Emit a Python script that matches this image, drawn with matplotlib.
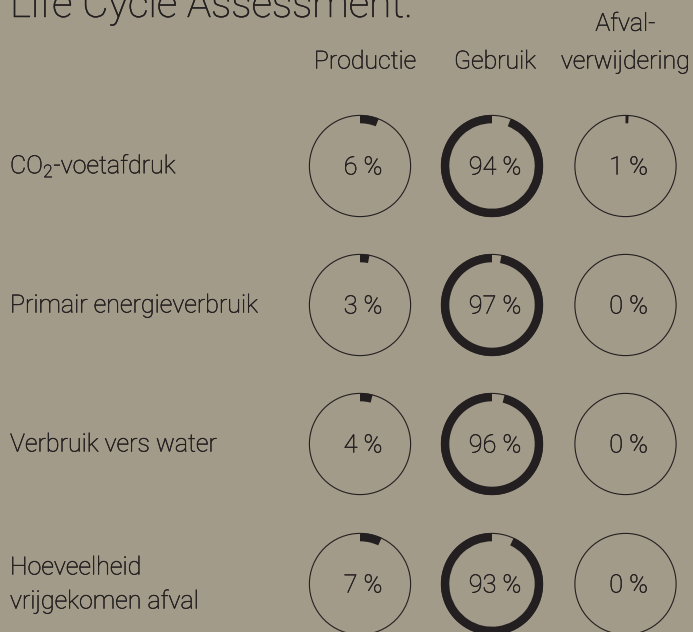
import matplotlib.pyplot as plt
import matplotlib.patheffects as pe
from matplotlib.patches import Circle, Wedge

# --- data ---
title = "Life Cycle Assessment."
categories = ["CO$_\\mathregular{2}$-voetafdruk", "Primair energieverbruik",
              "Verbruik vers water", "Hoeveelheid\nvrijgekomen afval"]
phases = ["Productie", "Gebruik", "Afval-\nverwijdering"]
productie = [6, 3, 4, 7]
gebruik = [94, 97, 96, 93]
afval = [1, 0, 0, 0]

# --- style ---
BG = "#a39b8a"
INK = "#231f20"
FONT = "Roboto"
W = "light"

plt.rcParams["font.family"] = FONT
plt.rcParams["font.weight"] = W
plt.rcParams["mathtext.fontset"] = "custom"
plt.rcParams["mathtext.rm"] = FONT + ":light"
plt.rcParams["mathtext.it"] = FONT + ":light"
plt.rcParams["mathtext.sf"] = FONT + ":light"

# a hair of stroke so the light face is a touch heavier, like the original
THICK = [pe.withStroke(linewidth=0.35, foreground=INK)]

fig = plt.figure(figsize=(6.93, 6.32), dpi=100, facecolor=BG)
ax = fig.add_axes([0, 0, 1, 1])
ax.set_xlim(0, 693)
ax.set_ylim(632, 0)
ax.set_facecolor(BG)
ax.axis("off")

col_x = [360, 492, 625.5]
head_dx = [5, 3, 0]
row_y = [166, 305, 444, 584]
R = 51
RING = 8.3

# title (cut off at the top like the original)
ax.text(10, 17, title, fontsize=29.2, color=INK, ha="left", va="baseline",
        path_effects=THICK)

# column headers
for x, dx, name in zip(col_x, head_dx, phases):
    lines = name.split("\n")
    for i, line in enumerate(reversed(lines)):
        ax.text(x + dx, 68.5 - i * 37.7, line, fontsize=17.9, color=INK,
                ha="center", va="baseline", path_effects=THICK)

# rows
for r, (y, cat) in enumerate(zip(row_y, categories)):
    lines = cat.split("\n")
    n = len(lines)
    for i, line in enumerate(lines):
        base = y + 7.5 + (i - (n - 1) / 2) * 34
        ax.text(10, base, line, fontsize=18, color=INK, ha="left", va="baseline",
                path_effects=THICK)

    vals = [productie[r], gebruik[r], afval[r]]
    start = 0
    for c, (x, v) in enumerate(zip(col_x, vals)):
        ax.add_patch(Circle((x, y), R - 0.4, fill=False, edgecolor=INK, linewidth=0.8))
        if v > 0:
            # y axis is inverted: -90 is the top, increasing angle runs clockwise on screen
            t1 = -90 + start * 3.6
            t2 = -90 + (start + v) * 3.6
            ax.add_patch(Wedge((x, y), R, t1, t2, width=RING, facecolor=INK,
                               edgecolor="none"))
        start += v
        ax.text(x + 3, y + 8.5, f"{v} %", fontsize=18.2, color=INK,
                ha="center", va="baseline", path_effects=THICK)

fig.savefig("out.png", dpi=100, facecolor=BG)
